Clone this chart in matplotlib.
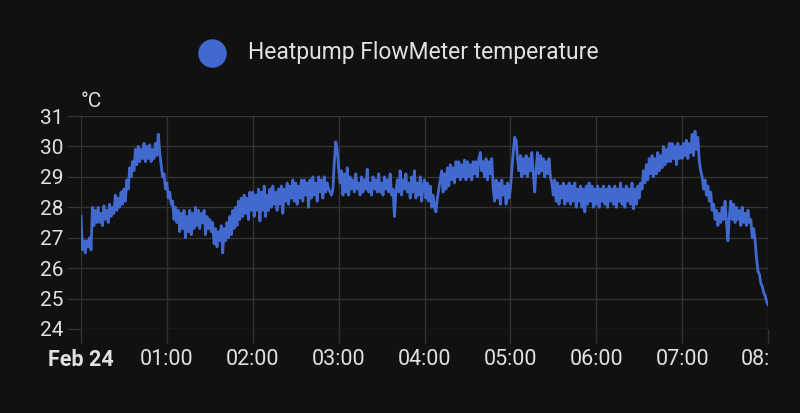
"""Heatpump flow meter temperature, dark dashboard style."""
import matplotlib
matplotlib.use('Agg')
import matplotlib.pyplot as plt
import numpy as np
from matplotlib.lines import Line2D
from matplotlib.transforms import Bbox, TransformedBbox


BG='#111111';GRID='#333333';TXT='#e1e1e1';BLUE='#4269d0'
SERIES='Heatpump FlowMeter temperature'
UNIT='°C'
TICK_LABELS=['Feb 24','01:00','02:00','03:00','04:00','05:00','06:00','07:00','08:00']
Y_TICKS=[24,25,26,27,28,29,30,31]
# one reading per minute, 00:00 .. 08:00
MINUTES=list(range(0,481))
H0=[27.7,26.6,26.9,26.5,26.9,26.7,27.0,26.6,28.0,27.4,27.9,27.5,
    28.0,27.5,27.8,27.4,28.05,27.6,27.9,27.5,28.1,27.7,28.0,27.8,28.4,27.9,28.3,28.0,
    28.5,28.1,28.6,28.2,28.9,28.6,29.3,29.0,29.5,29.2,29.9,29.4,
    30.0,29.5,29.9,29.6,30.1,29.5,30.0,29.6,30.05,29.5,29.9,29.6,30.1,29.7,30.4,29.8,
    29.4,29.0,29.1,28.6]
H1=[28.8,28.3,28.5,28.1,28.2,27.6,28.0,27.5,
    27.9,27.2,27.8,27.3,27.9,27.0,27.7,27.2,27.9,27.1,27.8,27.3,
    28.0,27.4,27.9,27.3,27.8,27.5,27.9,27.1,27.7,27.3,27.6,27.2,
    27.5,26.8,27.3,26.7,27.2,26.9,27.4,26.5,
    27.3,26.9,27.5,27.0,27.7,27.1,27.9,27.3,28.0,27.4,
    28.2,27.6,28.3,27.7,28.4,27.8,28.3,27.6,28.5,27.9]
H2=[28.5,27.7,28.4,27.9,28.6,27.55,28.5,27.9,28.7,27.7,28.4,27.9,
    28.6,28.0,28.7,28.1,28.5,27.9,28.6,28.1,28.7,27.8,28.6,28.2,
    28.8,28.1,28.7,28.3,28.9,28.2,28.8,28.1,28.7,28.3,28.9,28.2,
    28.9,28.4,28.8,28.0,28.9,28.3,29.0,28.4,28.8,28.2,29.0,28.5,
    28.9,28.3,29.0,28.5,28.8,28.6,28.5,28.4,28.6,29.5,30.15,29.9]
H3=[29.3,28.8,29.2,28.4,
    29.1,28.5,29.3,28.4,29.0,28.6,28.9,28.5,29.1,28.6,28.8,28.4,
    29.0,28.5,28.9,28.6,29.25,28.5,28.8,28.4,29.0,28.6,28.9,28.5,
    29.1,28.5,28.8,28.4,29.0,28.6,28.9,28.5,29.1,28.4,28.6,27.7,
    28.5,28.9,28.5,29.2,28.4,28.9,28.6,29.1,28.5,28.8,28.3,29.0,
    28.5,29.2,28.3,28.8,28.4,29.0,28.2,28.7]
H4=[28.9,28.3,28.8,28.2,28.7,28.0,28.4,28.0,27.85,28.3,28.6,28.9,
    29.2,28.5,29.1,28.6,29.3,28.7,29.4,28.9,29.3,28.8,29.5,29.0,
    29.5,28.9,29.4,29.0,29.55,28.9,29.5,29.0,29.4,28.9,29.5,29.1,
    29.5,29.0,29.6,29.8,29.2,29.5,29.0,29.6,28.9,29.5,29.1,29.6,
    28.6,28.2,28.9,28.3,28.8,28.1,28.9,28.4,28.7,28.1,28.8,28.3]
H5=[28.6,29.2,29.8,30.3,30.2,29.6,
    29.2,29.7,29.0,29.6,29.1,29.7,29.0,29.6,29.2,29.8,29.1,28.5,
    29.3,29.8,29.1,29.7,29.2,29.6,29.0,29.5,29.1,29.6,29.0,28.8,
    28.4,28.9,28.2,28.8,28.1,28.7,28.3,28.8,28.1,28.7,28.2,28.8,
    28.1,28.7,28.2,28.8,28.0,28.6,28.2,28.7,28.0,28.6,27.85,28.7,
    28.1,28.8,28.2,28.7,28.0,28.6]
H6=[28.1,28.7,28.0,28.6,28.2,28.7,28.1,28.6,28.0,28.7,28.2,28.6,
    28.1,28.7,28.0,28.6,28.2,28.8,28.1,28.6,28.0,28.7,28.2,28.6,
    28.1,28.8,27.95,28.6,28.1,28.7,28.3,28.8,
    28.6,29.2,28.8,29.4,28.9,29.6,29.1,29.7,
    29.0,29.6,29.1,29.8,29.2,29.7,29.3,30.0,29.4,29.9,29.5,30.1,
    29.5,30.1,29.6,30.0,29.4,30.1,29.6,30.0]
H7=[29.6,30.1,29.7,30.2,29.6,30.1,29.8,30.4,29.7,30.5,29.9,30.3,
    29.5,29.2,29.0,28.6,28.9,28.4,
    28.7,28.2,28.5,27.9,28.1,27.6,
    27.9,27.4,27.8,27.5,28.0,27.6,28.2,27.5,
    26.9,27.7,28.2,27.6,28.1,27.5,28.0,27.6,
    27.9,27.4,28.0,27.5,27.8,27.4,27.9,27.5,
    27.6,27.0,27.3,26.9,26.3,25.9,
    25.8,25.5,25.4,25.2,25.1,24.9,24.8]
TEMPS=H0+H1+H2+H3+H4+H5+H6+H7


plt.rcParams['font.family']=['Roboto','DejaVu Sans']
fig=plt.figure(figsize=(8,4.13),dpi=100,facecolor=BG)
ax=fig.add_axes([81/800,1-329/413,687/800,213/413],facecolor=BG)
ax.plot(np.array(MINUTES)/60,TEMPS,color=BLUE,lw=2.0,solid_joinstyle='round',zorder=3)
ax.set_xlim(0,8);ax.set_ylim(24,31)
ax.set_xticks(range(len(TICK_LABELS)),TICK_LABELS);ax.set_yticks(Y_TICKS)
ax.grid(color=GRID,lw=1)
for s in ax.spines.values():s.set_visible(False)
ax.tick_params(axis='both',length=10,width=1,color=GRID,labelcolor=TXT)
ax.tick_params(axis='y',labelsize=15,pad=2.5)
ax.tick_params(axis='x',labelsize=15.5,pad=4.5)
ax.get_xticklabels()[0].set_fontweight('bold')
clip=TransformedBbox(Bbox([[0,0],[768/800,1]]),fig.transFigure)
for lab in ax.get_xticklabels():lab.set_clip_box(clip);lab.set_clip_on(True)
fig.text(81/800,1-107/413,UNIT,color=TXT,fontsize=15,ha='left',va='baseline')
fig.add_artist(Line2D([212/800],[1-53/413],marker='o',markersize=19.5,color=BLUE,transform=fig.transFigure))
fig.text(248/800,1-59/413,SERIES,color=TXT,fontsize=16.5,ha='left',va='baseline')
fig.savefig('out.png',dpi=100,facecolor=BG)
